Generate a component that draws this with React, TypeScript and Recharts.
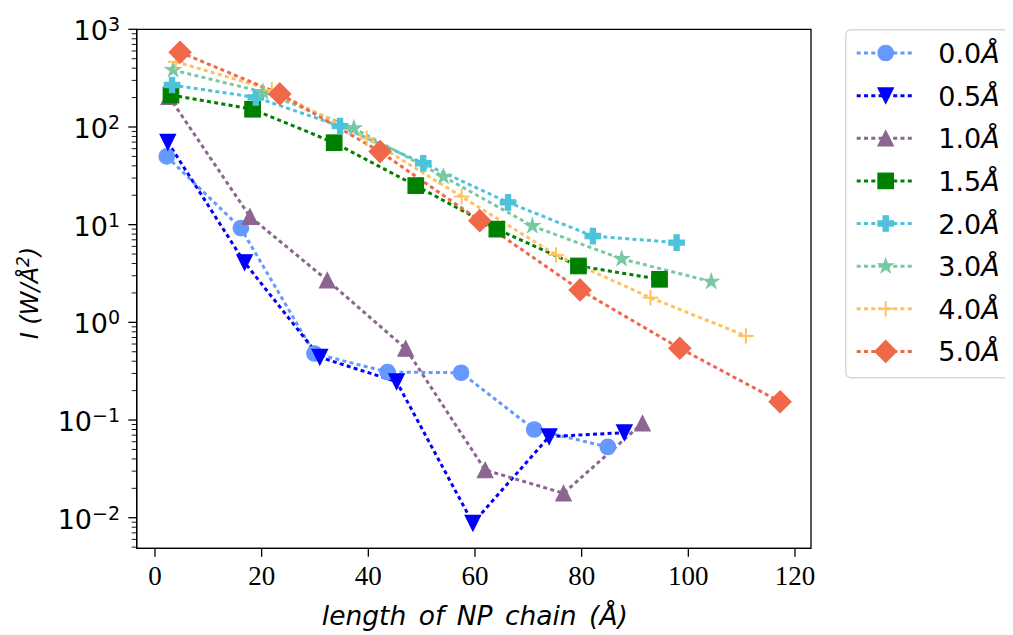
import React from 'react';
import { LineChart, Line, XAxis, YAxis, Legend, Label, ReferenceArea } from 'recharts';

// ---------- data ----------
const seriesLabels = ['0.0', '0.5', '1.0', '1.5', '2.0', '3.0', '4.0', '5.0'];

const x00 = [2.2, 16.1, 29.9, 43.6, 57.4, 71.1, 84.9];
const y00 = [50, 9.2, 0.48, 0.31, 0.305, 0.08, 0.053];
const x05 = [2.4, 16.8, 30.9, 45.3, 59.6, 73.9, 88.0];
const y05 = [70, 4.1, 0.44, 0.247, 0.0088, 0.0676, 0.0743];
const x10 = [2.6, 17.8, 32.3, 47.0, 61.9, 76.6, 91.4];
const y10 = [205, 12.1, 2.7, 0.54, 0.0308, 0.0178, 0.0927];
const x15 = [3.0, 18.3, 33.6, 48.9, 64.1, 79.4, 94.6];
const y15 = [212, 152, 69, 25.1, 9.0, 3.78, 2.76];
const x20 = [3.2, 18.9, 34.7, 50.3, 66.2, 82.1, 97.8];
const y20 = [269, 201, 102, 42.5, 16.9, 7.65, 6.55];
const x30 = [3.4, 20.25, 37.3, 54.1, 70.75, 87.5, 104.3];
const y30 = [383, 228, 97, 31, 9.7, 4.46, 2.61];
const x40 = [3.9, 21.9, 39.7, 57.5, 75.2, 92.9, 110.8];
const y40 = [466, 239, 76.6, 19.4, 4.9, 1.79, 0.726];
const x50 = [4.7, 23.4, 42.2, 60.9, 79.7, 98.4, 117.2];
const y50 = [582, 218, 56, 11.0, 2.15, 0.543, 0.154];

const xTicks = [0, 20, 40, 60, 80, 100, 120];
const yMajorTicks = [0.01, 0.1, 1, 10, 100, 1000];
const yMajorExponents = ['\u22122', '\u22121', '0', '1', '2', '3'];
const minorMultipliers = [2, 3, 4, 5, 6, 7, 8, 9];

const xDomain = [-3.43, 123.0];
const yDomain = [0.004864, 1000];

// ---------- styles ----------
const seriesX = [x00, x05, x10, x15, x20, x30, x40, x50];
const seriesY = [y00, y05, y10, y15, y20, y30, y40, y50];
const seriesColors = ['#6699FF', '#0000FF', '#8C6591', '#008000', '#4CC3DA', '#79C8A3', '#FFC15E', '#F0674A'];
const seriesShapes = ['circle', 'triDown', 'triUp', 'square', 'plusFilled', 'star', 'plus', 'diamond'];

const MS = 15.5;

function Marker({ shape, cx, cy, color }: { shape: string; cx: number; cy: number; color: string }) {
  const h = MS / 2;
  const common = { fill: color, stroke: color, strokeWidth: 1.2 };
  switch (shape) {
    case 'circle':
      return <circle cx={cx} cy={cy} r={h} {...common} />;
    case 'triDown':
      return <polygon points={`${cx - h},${cy - h} ${cx + h},${cy - h} ${cx},${cy + h}`} {...common} />;
    case 'triUp':
      return <polygon points={`${cx - h},${cy + h} ${cx + h},${cy + h} ${cx},${cy - h}`} {...common} />;
    case 'square':
      return <rect x={cx - h} y={cy - h} width={MS} height={MS} {...common} />;
    case 'diamond': {
      const d = h * Math.SQRT2;
      return <polygon points={`${cx},${cy - d} ${cx + d},${cy} ${cx},${cy + d} ${cx - d},${cy}`} {...common} />;
    }
    case 'plusFilled': {
      const a = MS / 6;
      const b = MS / 2;
      const pts = [
        [-a, -b], [a, -b], [a, -a], [b, -a], [b, a], [a, a], [a, b], [-a, b], [-a, a], [-b, a], [-b, -a], [-a, -a],
      ].map(([px, py]) => `${cx + px},${cy + py}`).join(' ');
      return <polygon points={pts} {...common} />;
    }
    case 'star': {
      const R = h;
      const r = R * 0.381966;
      const pts: string[] = [];
      for (let i = 0; i < 10; i++) {
        const ang = -Math.PI / 2 + (i * Math.PI) / 5;
        const rad = i % 2 === 0 ? R : r;
        pts.push(`${cx + rad * Math.cos(ang)},${cy + rad * Math.sin(ang)}`);
      }
      return <polygon points={pts.join(' ')} {...common} />;
    }
    case 'plus':
      return (
        <g stroke={color} strokeWidth={2}>
          <line x1={cx - h} x2={cx + h} y1={cy} y2={cy} />
          <line x1={cx} x2={cx} y1={cy - h} y2={cy + h} />
        </g>
      );
    default:
      return null;
  }
}

const DASH = '4 3.3';
const LW = 3;

const XTick = (props: any) => {
  const { x, y, payload } = props;
  return (
    <g>
      <line x1={x} x2={x} y1={y} y2={y + 8.4} stroke="#000" strokeWidth={1.3} />
      <text x={x} y={y + 36.7} textAnchor="middle" fontFamily="Liberation Serif" fontSize={27} fill="#000">
        {payload.value}
      </text>
    </g>
  );
};

const YTick = (props: any) => {
  const { x, y, payload } = props;
  const v = payload.value;
  const idx = yMajorTicks.findIndex((m) => Math.abs(m - v) / m < 1e-6);
  const major = idx >= 0;
  return (
    <g>
      <line x1={x - (major ? 8.4 : 5)} x2={x} y1={y} y2={y} stroke="#000" strokeWidth={major ? 1.3 : 0.9} />
      {major && (
        <text x={x - 16.7} y={y + 11} textAnchor="end" fontFamily="DejaVu Sans" fontSize={27} fill="#000">
          10
          <tspan dy={-9} fontSize={19}>
            {yMajorExponents[idx]}
          </tspan>
        </text>
      )}
    </g>
  );
};

const LegendBox = () => {
  const rowH = 42.63;
  return (
    <svg width={168} height={350} style={{ display: 'block' }}>
      <rect x={0.75} y={0.75} width={166} height={348} rx={5} ry={5} fill="#fff" stroke="#d6d6d6" strokeWidth={1.4} />
      {seriesLabels.map((lab, i) => {
        const cy = 24 + i * rowH;
        return (
          <g key={lab}>
            <line x1={11.7} x2={70} y1={cy} y2={cy} stroke={seriesColors[i]} strokeWidth={LW} strokeDasharray={DASH} />
            <Marker shape={seriesShapes[i]} cx={40.7} cy={cy} color={seriesColors[i]} />
            <text x={93.3} y={cy + 10} fontFamily="DejaVu Sans" fontSize={27} fill="#000">
              {lab}
              <tspan fontStyle="italic">Å</tspan>
            </text>
          </g>
        );
      })}
    </svg>
  );
};

export default function App() {
  const yTicks: number[] = [];
  yMajorTicks.forEach((m) => yTicks.push(m));
  [0.001, 0.01, 0.1, 1, 10, 100].forEach((d) =>
    minorMultipliers.forEach((k) => {
      const v = d * k;
      if (v >= yDomain[0] && v <= yDomain[1]) yTicks.push(v);
    })
  );

  return (
    <LineChart
      width={1005}
      height={627}
      margin={{ top: 21.3, right: 202, bottom: 46.7, left: 0 }}
      style={{ fontFamily: 'DejaVu Sans' }}
    >
      <XAxis
        xAxisId="main"
        dataKey="x"
        type="number"
        domain={xDomain}
        allowDataOverflow
        ticks={xTicks}
        interval={0}
        tick={<XTick />}
        tickLine={false}
        tickSize={0}
        tickMargin={0}
        height={40}
        axisLine={{ stroke: '#000', strokeWidth: 1.3 }}
      >
        <Label
          content={() => (
            <text
              x={466.85}
              y={617}
              textAnchor="middle"
              fontFamily="DejaVu Sans"
              fontStyle="italic"
              fontSize={26.5}
              style={{ wordSpacing: '4px' }}
              fill="#000"
            >
              length of NP chain (Å)
            </text>
          )}
        />
      </XAxis>
      <YAxis
        yAxisId="main"
        scale="log"
        type="number"
        domain={yDomain}
        allowDataOverflow
        ticks={yTicks}
        interval={0}
        tick={<YTick />}
        tickLine={false}
        tickSize={0}
        tickMargin={0}
        width={128.7}
        axisLine={{ stroke: '#000', strokeWidth: 1.3 }}
      >
        <Label
          content={() => (
            <text
              x={29.5}
              y={285}
              transform="rotate(-90, 29.5, 285)"
              textAnchor="middle"
              fontFamily="DejaVu Sans"
              fontStyle="italic"
              fontSize={24}
              fill="#000"
            >
              I (W/Å
              <tspan dy={-9} fontSize={17}>2</tspan>
              <tspan dy={9}>)</tspan>
            </text>
          )}
        />
      </YAxis>
      {seriesLabels.map((lab, i) => {
        const pts = seriesX[i].map((xv, j) => ({ x: xv, y: seriesY[i][j] }));
        return (
          <Line
            key={lab}
            xAxisId="main"
            yAxisId="main"
            data={pts}
            dataKey="y"
            name={lab + 'Å'}
            type="linear"
            stroke={seriesColors[i]}
            strokeWidth={LW}
            strokeDasharray={DASH}
            isAnimationActive={false}
            activeDot={false}
            dot={(p: any) => (
              <Marker key={`${lab}-${p.index}`} shape={seriesShapes[i]} cx={p.cx} cy={p.cy} color={seriesColors[i]} />
            )}
          />
        );
      })}
      <ReferenceArea
        xAxisId="main"
        yAxisId="main"
        x1={xDomain[0]}
        x2={xDomain[1]}
        y1={yDomain[0]}
        y2={yDomain[1]}
        ifOverflow="visible"
        fill="none"
        fillOpacity={0}
        stroke="#000"
        strokeWidth={1.3}
      />
      <Legend
        layout="vertical"
        align="center"
        verticalAlign="middle"
        content={() => <LegendBox />}
        wrapperStyle={{ position: 'absolute', left: 837, top: 21.3, width: 168, height: 350, margin: 0, padding: 0 }}
      />
    </LineChart>
  );
}
